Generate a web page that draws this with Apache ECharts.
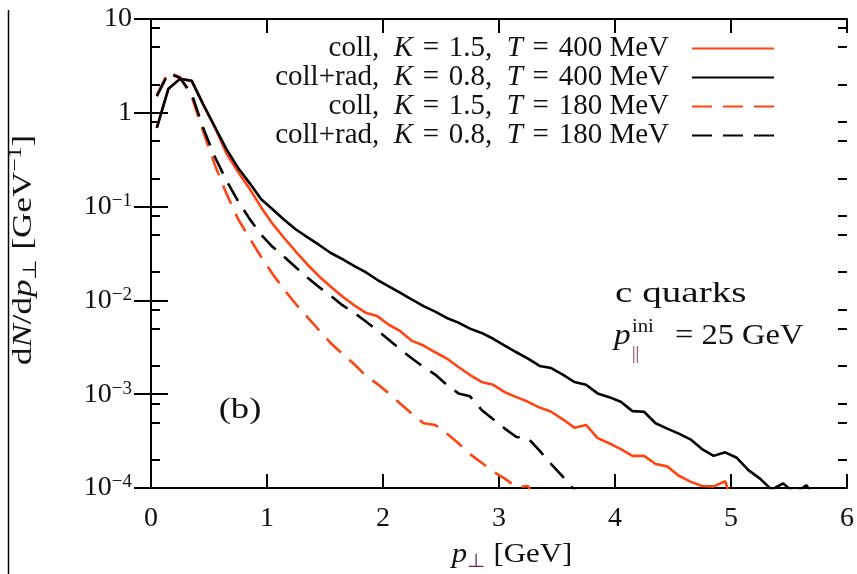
<!DOCTYPE html>
<html>
<head>
<meta charset="utf-8">
<script src="https://cdn.jsdelivr.net/npm/echarts@6/dist/echarts.min.js"></script>
<style>html,body{margin:0;padding:0;background:#fff}#c{width:857px;height:574px}</style>
</head>
<body>
<div id="c"></div>
<script>
// bin centres (GeV)
const xs = [0.05,0.15,0.25,0.35,0.45,0.55,0.65,0.75,0.85,0.95,
            1.05,1.15,1.25,1.35,1.45,1.55,1.65,1.75,1.85,1.95,
            2.05,2.15,2.25,2.35,2.45,2.55,2.65,2.75,2.85,2.95,
            3.05,3.15,3.25,3.35,3.45,3.55,3.65,3.75,3.85,3.95,
            4.05,4.15,4.25,4.35,4.45,4.55,4.65,4.75,4.85,4.95,
            5.05,5.15,5.25,5.35,5.45,5.55,5.65,5.75];
const seriesNames = ['coll, K = 1.5, T = 400 MeV','coll+rad, K = 0.8, T = 400 MeV','coll, K = 1.5, T = 180 MeV','coll+rad, K = 0.8, T = 180 MeV'];
const collT400 = [0.69,1.8,2.3,2.2,1.23,0.70,0.37,0.235,0.155,0.098,
  0.065,0.046,0.033,0.024,0.018,0.014,0.011,0.0089,0.0074,0.0068,
  0.0055,0.0047,0.0037,0.0033,0.0028,0.0024,0.00195,0.0016,0.00135,0.00126,
  0.00105,0.00093,0.00083,0.00072,0.00065,0.00054,0.00044,0.00047,0.00034,0.0003,
  0.00026,0.00022,0.00022,0.00018,0.00017,0.000135,0.000117,0.000105,0.000104,0.000118,
  0.00005];
const collRadT400 = [0.69,1.8,2.3,2.2,1.23,0.71,0.41,0.26,0.178,0.12,
  0.093,0.072,0.057,0.047,0.039,0.032,0.0275,0.0234,0.020,0.0166,
  0.0141,0.012,0.0102,0.0087,0.0076,0.0065,0.0058,0.0050,0.0045,0.0039,
  0.0033,0.0028,0.0024,0.0020,0.0019,0.00162,0.00135,0.00126,0.00102,0.00093,
  0.00083,0.00066,0.00065,0.00049,0.00043,0.00038,0.00033,0.00026,0.00022,0.00024,
  0.00021,0.000155,0.000126,0.000096,0.000112,0.000088,0.000107,0.00007];
const collT180 = [1.55,2.7,2.4,1.5,0.63,0.28,0.138,0.074,0.046,0.029,
  0.019,0.0129,0.0091,0.0066,0.0048,0.0035,0.0027,0.0021,0.00158,0.00129,
  0.00102,0.00079,0.00062,0.00049,0.00047,0.00038,0.0003,0.00023,0.000186,0.00015,
  0.000126,0.000102,0.000105,0.000063];
const collRadT180 = [1.5,2.65,2.35,1.6,0.69,0.34,0.19,0.115,0.074,0.05,
  0.037,0.029,0.0224,0.0174,0.0138,0.0112,0.0089,0.0074,0.006,0.0048,
  0.0038,0.003,0.0024,0.00195,0.00162,0.00126,0.00102,0.00095,0.00068,0.00054,
  0.00043,0.00035,0.00034,0.00025,0.00018,0.000132,0.000095,0.000063];
const xTicks = [0,1,2,3,4,5,6];
const yMinorTicks = [2e-4,5e-4,8e-4,2e-3,5e-3,8e-3,2e-2,5e-2,8e-2,0.2,0.5,0.8,2,5,8];

const RED = '#ff4513', BLACK = '#000000';
const FONT = 'Liberation Serif';
const TXT = '#111111';
const PURPLE = '#7a1f55';
const EN = '\u2002', THICK = '\u2004';

function pairs(ys){ return ys.map((y,i)=>[xs[i], y]); }

const chart = echarts.init(document.getElementById('c'), null, {renderer:'canvas'});

const axisLineStyle = {color:'#000', width:2};
const majorY = {
  type:'log', logBase:10, min:1e-4, max:10, splitNumber:5,
  axisLine:{show:true, lineStyle:axisLineStyle},
  axisTick:{show:true, inside:true, length:17, lineStyle:{color:'#000', width:2}},
  splitLine:{show:false}, minorTick:{show:false}
};
const minorY = {
  type:'value', min:-4, max:1,
  axisLine:{show:false},
  axisTick:{show:true, inside:true, length:9, lineStyle:{color:'#000', width:2},
            customValues: yMinorTicks.map(v=>Math.log10(v))},
  axisLabel:{show:false}, splitLine:{show:false}
};

const option = {
  animation:false,
  backgroundColor:'#fff',
  grid:{left:151, right:10, top:19, bottom:86, containLabel:false, outerBoundsMode:'none'},
  legend:{
    orient:'vertical', right:82, top:34, align:'right', padding:0,
    itemWidth:82, itemHeight:14, itemGap:0,
    itemStyle:{opacity:0},
    data: seriesNames,
    formatter: n => n.replace(/, /g, ','+EN).replace(/ = /g, THICK+'='+THICK).replace(/\b([KT])\b/g, '{i|$1}'),
    textStyle:{fontFamily:FONT, fontSize:29, color:TXT, lineHeight:28.5, padding:[0,18,0,0],
      rich:{i:{fontFamily:FONT, fontSize:29, fontStyle:'italic', color:TXT}}}
  },
  xAxis:[
    {type:'value', position:'bottom', min:0, max:6, interval:1,
     axisLine:{show:true, onZero:false, lineStyle:axisLineStyle},
     axisTick:{show:true, inside:true, length:14, lineStyle:{color:'#000', width:2}, customValues:xTicks},
     axisLabel:{show:true, margin:17, fontFamily:FONT, fontSize:28, color:TXT, customValues:xTicks},
     splitLine:{show:false}},
    {type:'value', position:'top', min:0, max:6, interval:1,
     axisLine:{show:true, onZero:false, lineStyle:axisLineStyle},
     axisTick:{show:true, inside:true, length:14, lineStyle:{color:'#000', width:2}},
     axisLabel:{show:false}, splitLine:{show:false}}
  ],
  yAxis:[
    Object.assign({}, majorY, {position:'left',
      axisLabel:{show:true, margin:19, fontFamily:FONT, color:TXT,
        formatter: v => { const e = Math.round(Math.log10(v));
          if (e === 1) return '{n|10}'; if (e === 0) return '{n|1}';
          return '{n|10}{s|−' + (-e) + '}'; },
        rich:{ n:{fontFamily:FONT, fontSize:28, color:TXT, lineHeight:30},
               s:{fontFamily:FONT, fontSize:19, color:TXT, lineHeight:19, verticalAlign:'top'} }}}),
    Object.assign({}, majorY, {position:'right', axisLabel:{show:false}}),
    Object.assign({}, minorY, {position:'left'}),
    Object.assign({}, minorY, {position:'right'})
  ],
  series:[
    {name:seriesNames[0], type:'line', data:pairs(collT400), showSymbol:false, symbol:'none', clip:true,
     lineStyle:{color:RED, width:2.6}, itemStyle:{color:RED}},
    {name:seriesNames[1], type:'line', data:pairs(collRadT400), showSymbol:false, symbol:'none', clip:true,
     lineStyle:{color:BLACK, width:2.6}, itemStyle:{color:BLACK}},
    {name:seriesNames[2], type:'line', data:pairs(collT180), showSymbol:false, symbol:'none', clip:true,
     lineStyle:{color:RED, width:2.6, type:[20,11]}, itemStyle:{color:RED}},
    {name:seriesNames[3], type:'line', data:pairs(collRadT180), showSymbol:false, symbol:'none', clip:true,
     lineStyle:{color:BLACK, width:2.6, type:[20,11]}, itemStyle:{color:BLACK}}
  ],
  graphic:[
    {type:'line', shape:{x1:8.5, y1:10, x2:8.5, y2:574}, style:{stroke:'#000', lineWidth:1.5}, silent:true},
    {type:'text', x:24, y:250, rotation:Math.PI/2, scaleX:1.25,
     style:{text:'d{i|N}/d{i|p}{sub|⊥} [GeV{sup|−1}]', fontFamily:FONT, fontSize:28, fill:TXT,
       align:'center', verticalAlign:'middle',
       rich:{i:{fontFamily:FONT, fontSize:28, fontStyle:'italic', fill:TXT, lineHeight:34},
             sub:{fontFamily:FONT, fontSize:19, fill:TXT, lineHeight:34, verticalAlign:'bottom'},
             sup:{fontFamily:FONT, fontSize:19, fill:TXT, lineHeight:19, verticalAlign:'top'}}}},
    {type:'text', x:512, y:555, scaleX:1.1,
     style:{text:'{i|p}{sub|⊥} [GeV]', fontFamily:FONT, fontSize:28, fill:TXT,
       align:'center', verticalAlign:'middle',
       rich:{i:{fontFamily:FONT, fontSize:28, fontStyle:'italic', fill:TXT, lineHeight:34},
             sub:{fontFamily:FONT, fontSize:19, fill:PURPLE, lineHeight:34, verticalAlign:'bottom'}}}},
    {type:'text', x:240, y:410, scaleX:1.22, style:{text:'(b)', fontFamily:FONT, fontSize:30, fill:TXT, align:'center', verticalAlign:'middle'}},
    {type:'text', x:615, y:294, scaleX:1.35, style:{text:'c quarks', fontFamily:FONT, fontSize:29, fill:TXT, align:'left', verticalAlign:'middle'}},
    {type:'text', x:614, y:336, scaleX:1.15, style:{text:'p', fontFamily:FONT, fontSize:29, fontStyle:'italic', fill:TXT, align:'left', verticalAlign:'middle'}},
    {type:'text', x:632, y:327, scaleX:1.15, style:{text:'ini', fontFamily:FONT, fontSize:18, fill:TXT, align:'left', verticalAlign:'middle'}},
    {type:'text', x:632, y:354, style:{text:'||', fontFamily:FONT, fontSize:18, fill:PURPLE, align:'left', verticalAlign:'middle'}},
    {type:'text', x:675, y:336, scaleX:1.12, style:{text:'= 25 GeV', fontFamily:FONT, fontSize:29, fill:TXT, align:'left', verticalAlign:'middle'}}
  ]
};
chart.setOption(option);
</script>
</body>
</html>
